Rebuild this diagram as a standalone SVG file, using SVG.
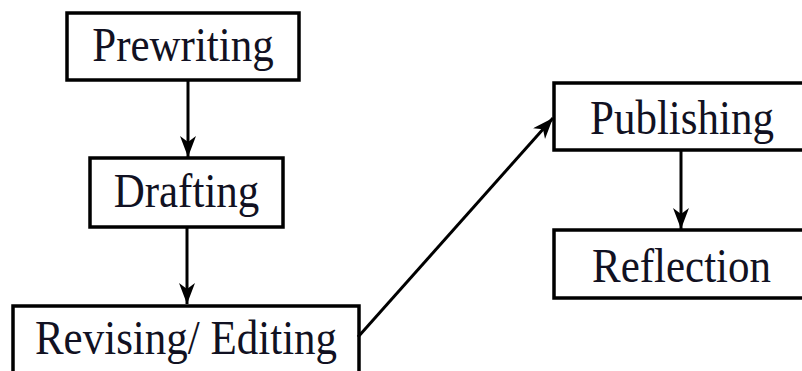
<svg xmlns="http://www.w3.org/2000/svg" width="802" height="371" viewBox="0 0 802 371">
  <style>
    .box { fill: #ffffff; stroke: #000000; stroke-width: 3.5; }
    .label { font-family: "Liberation Serif", "Times New Roman", serif; font-size: 43px; fill: #111122; text-anchor: middle; }
    .edge { stroke: #000000; stroke-width: 3; fill: none; marker-end: url(#head); }
  </style>
  <defs>
    <marker id="head" markerUnits="userSpaceOnUse" markerWidth="24" markerHeight="18" refX="21" refY="8" orient="auto">
      <path d="M0,0 L21,8 L0,16 L6,8 Z" fill="#000000"/>
    </marker>
  </defs>
  <rect width="802" height="371" fill="#ffffff"/>

  <g id="node-prewriting">
    <rect class="box" x="67" y="13" width="232" height="67"/>
    <text class="label" transform="translate(183,61) scale(1,1.12)">Prewriting</text>
  </g>
  <g id="node-drafting">
    <rect class="box" x="90" y="158" width="193" height="69"/>
    <text class="label" transform="translate(186.5,207) scale(1,1.12)">Drafting</text>
  </g>
  <g id="node-revising">
    <rect class="box" x="13" y="306" width="346" height="80"/>
    <text class="label" transform="translate(186,354) scale(1,1.12)">Revising/ Editing</text>
  </g>
  <g id="node-publishing">
    <rect class="box" x="554" y="83" width="260" height="67"/>
    <text class="label" transform="translate(682,134) scale(1,1.12)">Publishing</text>
  </g>
  <g id="node-reflection">
    <rect class="box" x="554" y="230" width="260" height="68"/>
    <text class="label" transform="translate(681.5,282) scale(1,1.12)">Reflection</text>
  </g>

  <g id="connectors">
    <line class="edge" x1="188" y1="81" x2="188" y2="157"/>
    <line class="edge" x1="187" y1="228" x2="187" y2="304"/>
    <line class="edge" x1="358" y1="337" x2="553" y2="118"/>
    <line class="edge" x1="681" y1="151" x2="681" y2="229"/>
  </g>
</svg>
